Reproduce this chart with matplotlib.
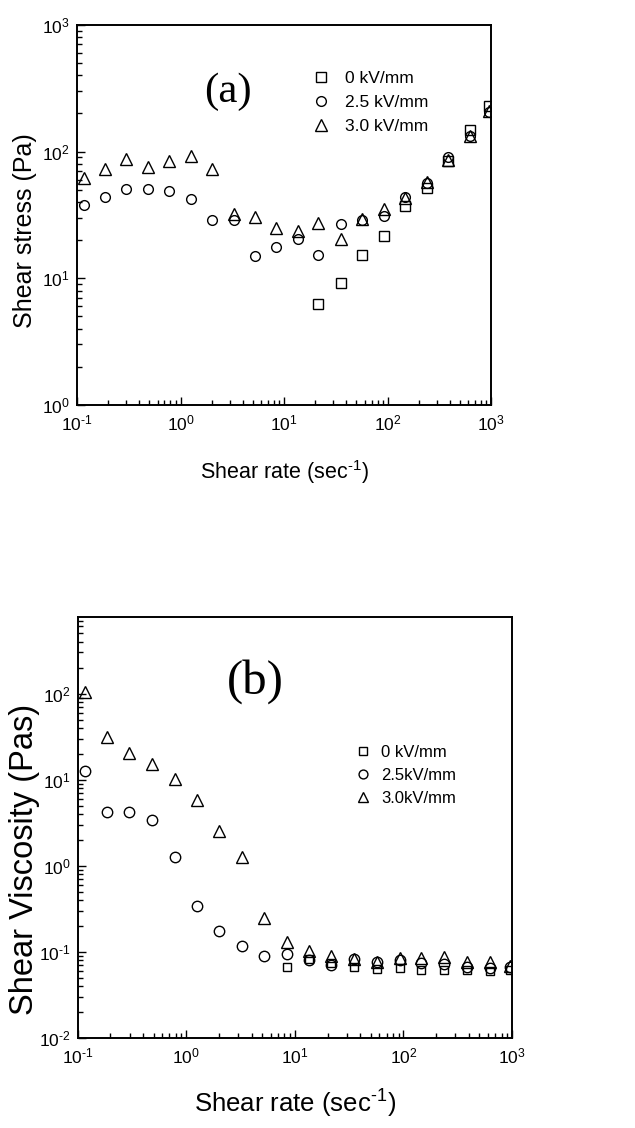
import numpy as np
import matplotlib
matplotlib.use('Agg')
import matplotlib.pyplot as plt
from matplotlib.ticker import FuncFormatter

plt.rcParams['font.family'] = ['Liberation Sans', 'DejaVu Sans']
plt.rcParams['mathtext.fontset'] = 'custom'
plt.rcParams['mathtext.rm'] = 'Liberation Sans'
plt.rcParams['mathtext.it'] = 'Liberation Sans:italic'
plt.rcParams['mathtext.bf'] = 'Liberation Sans:bold'
plt.rcParams['axes.unicode_minus'] = False

nan = np.nan

# shear rate (sec^-1), same for both panels
shear_rate = [0.117, 0.187, 0.299, 0.48, 0.78, 1.26, 2.02, 3.26, 5.24, 8.4,
              13.5, 21.5, 35.2, 57, 92, 146, 238, 387, 620, 960]

# (a) shear stress (Pa)
stress_0kv = [nan] * 11 + [6.3, 9.2, 15.2, 21.5, 37, 52, 84, 147, 228]
stress_25kv = [38, 44, 51, 51, 49, 42, 29, 29, 15, 17.8,
               20.5, 15.3, 27, 29, 31, 44, 56.6, 90, 132, 205]
stress_30kv = [62, 72.6, 87.5, 76, 84.6, 93, 73, 32.4, 30.7, 25,
               23.6, 27.5, 20.4, 29.2, 35, 42.6, 57.7, 86, 133, 207]

# (b) shear viscosity (Pas)
visc_0kv = [nan] * 9 + [0.068, 0.083, 0.075, 0.068, 0.064, 0.065, 0.062, 0.062,
                        0.062, 0.061, 0.062]
visc_25kv = [12.7, 4.24, 4.17, 3.4, 1.28, 0.342, 0.177, 0.117, 0.09, 0.095,
             0.081, 0.071, 0.084, 0.077, 0.082, 0.075, 0.073, 0.068, 0.066, 0.067]
visc_30kv = [105, 31.4, 20.5, 15.1, 10.1, 5.8, 2.55, 1.26, 0.246, 0.13,
             0.104, 0.091, 0.083, 0.077, 0.0845, 0.0845, 0.088, 0.077, 0.076, 0.069]

labels_a = ['0 kV/mm', '2.5 kV/mm', '3.0 kV/mm']
labels_b = ['0 kV/mm', '2.5kV/mm', '3.0kV/mm']


def pow10(v, pos):
    e = int(round(np.log10(v)))
    if e < 0:
        return '$10^{\\text{-}%d}$' % (-e)
    return '$10^{%d}$' % e


fig = plt.figure(figsize=(6.35, 11.28), dpi=100)

ax1 = fig.add_axes([0.1213, 0.641, 0.652, 0.337])
ax2 = fig.add_axes([0.1224, 0.0795, 0.684, 0.3738])

mk = dict(linestyle='none', markerfacecolor='none', markeredgecolor='black',
          markeredgewidth=1.0)

# panel (a)
ax1.plot(shear_rate, stress_0kv, marker='s', markersize=6.5, label=labels_a[0], **mk)
ax1.plot(shear_rate, stress_25kv, marker='o', markersize=7, label=labels_a[1], **mk)
ax1.plot(shear_rate, stress_30kv, marker='^', markersize=8.5, label=labels_a[2], **mk)
ax1.set_xscale('log')
ax1.set_yscale('log')
ax1.set_xlim(0.1, 1000)
ax1.set_ylim(1, 1000)
ax1.set_xlabel('Shear rate (sec$^{\\text{-}1}$)', fontsize=15.5)
ax1.set_ylabel('Shear stress (Pa)', fontsize=18)
ax1.xaxis.set_label_coords(0.5, -0.139)
ax1.yaxis.set_label_coords(-0.097, 0.458)
ax1.text(0.365, 0.825, '(a)', transform=ax1.transAxes, fontsize=31,
         family='Liberation Serif', ha='center', va='center')
ax1.legend(loc='upper left', bbox_to_anchor=(0.568, 0.879), frameon=False,
           fontsize=12.5, handlelength=1.0, handletextpad=0.9, labelspacing=0.5,
           borderpad=0, borderaxespad=0, numpoints=1)

# panel (b)
ax2.plot(shear_rate, visc_0kv, marker='s', markersize=6, label=labels_b[0], **mk)
ax2.plot(shear_rate, visc_25kv, marker='o', markersize=7.5, label=labels_b[1], **mk)
ax2.plot(shear_rate, visc_30kv, marker='^', markersize=8.5, label=labels_b[2], **mk)
ax2.set_xscale('log')
ax2.set_yscale('log')
ax2.set_xlim(0.1, 1000)
ax2.set_ylim(0.01, 780)
ax2.set_xlabel('Shear rate (sec$^{\\text{-}1}$)', fontsize=18.5)
ax2.set_ylabel('Shear Viscosity (Pas)', fontsize=23.5)
ax2.xaxis.set_label_coords(0.5, -0.118)
ax2.yaxis.set_label_coords(-0.088, 0.425)
ax2.text(0.41, 0.847, '(b)', transform=ax2.transAxes, fontsize=35,
         family='Liberation Serif', ha='center', va='center')
ax2.legend(loc='upper left', bbox_to_anchor=(0.638, 0.6965), frameon=False,
           fontsize=12, handlelength=1.0, handletextpad=0.6, labelspacing=0.5,
           borderpad=0, borderaxespad=0, numpoints=1, markerscale=0.85)

for ax in (ax1, ax2):
    for s in ax.spines.values():
        s.set_linewidth(1.4)
    ax.xaxis.set_major_formatter(FuncFormatter(pow10))
    ax.yaxis.set_major_formatter(FuncFormatter(pow10))
    ax.tick_params(which='both', direction='in', top=False, right=False,
                   labelsize=12.5, width=1.0)
    ax.tick_params(which='major', length=6)
    ax.tick_params(which='minor', length=3.5)
    ax.tick_params(axis='x', which='both', pad=6)
    ax.tick_params(axis='y', which='both', pad=5)

fig.savefig('out.png', dpi=100)
